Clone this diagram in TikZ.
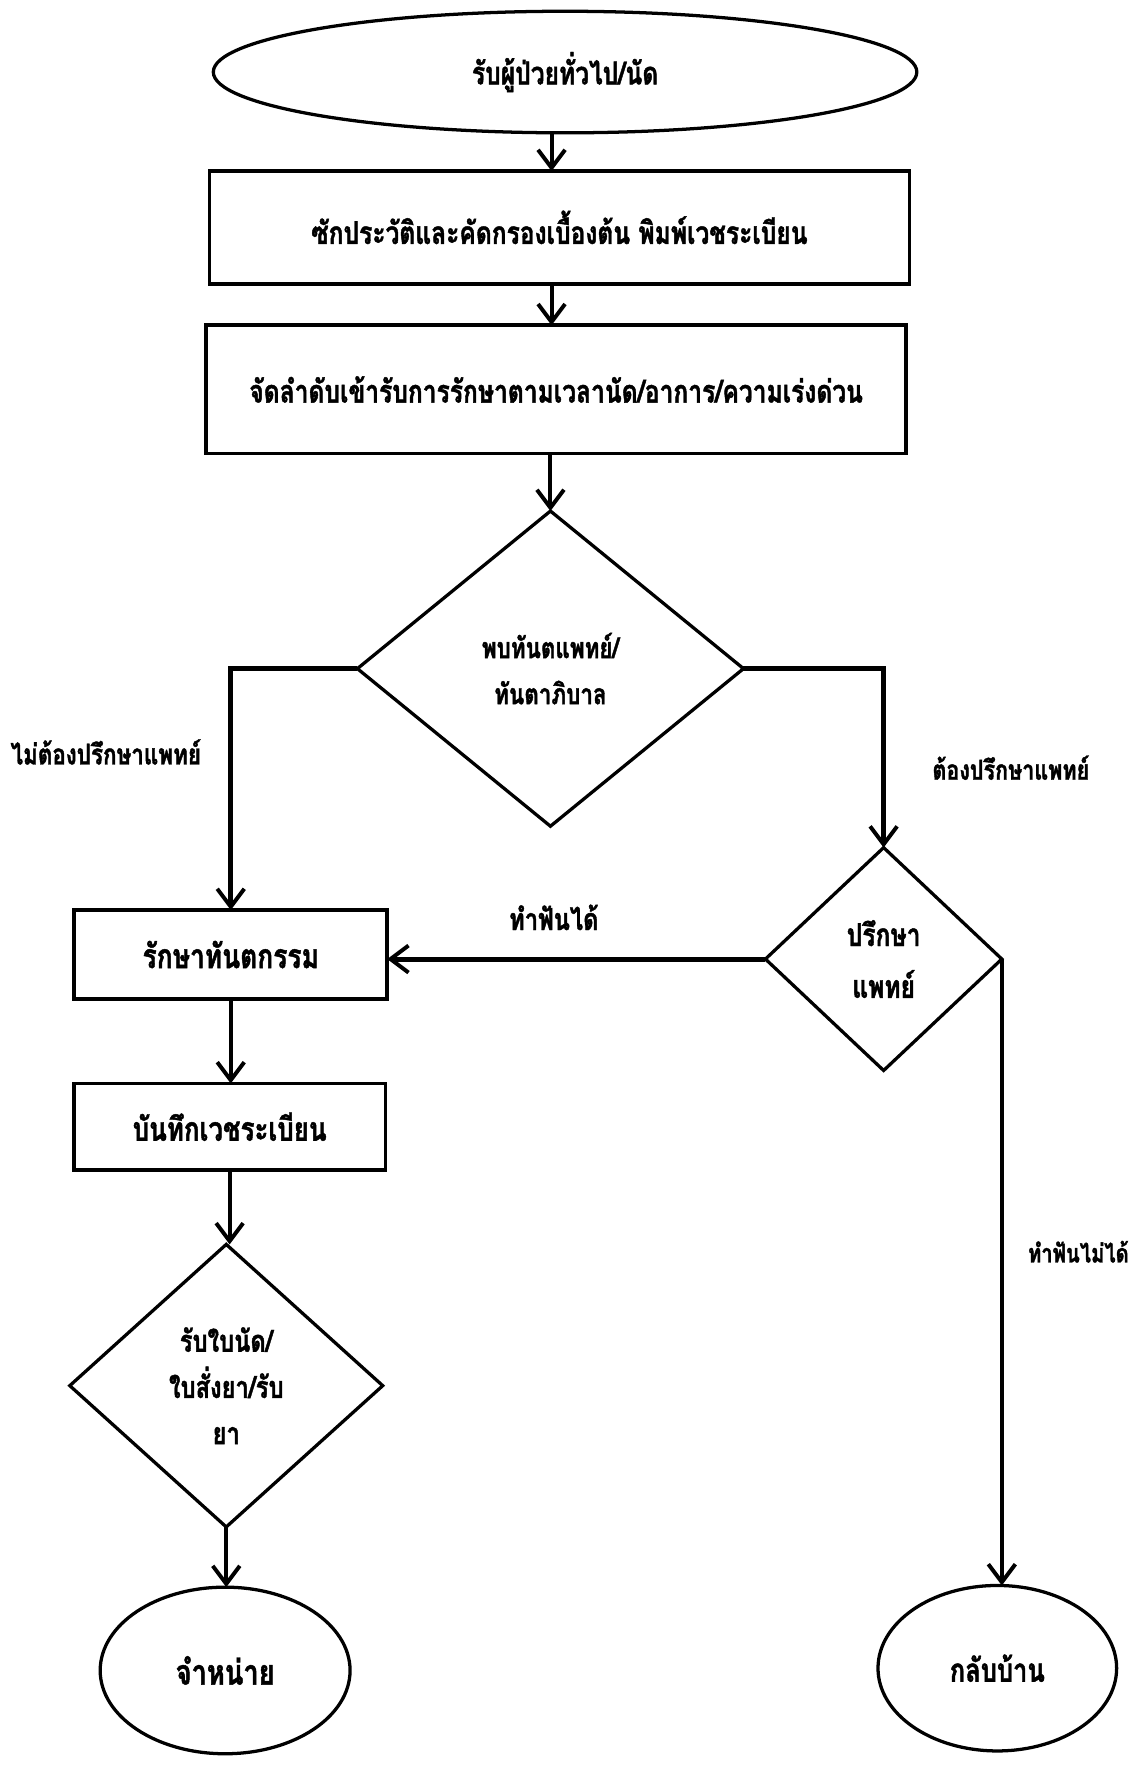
\documentclass[tikz,border=0pt]{standalone}
\usepackage{fontspec}
\newfontfamily\thaifont[Script=Thai,FakeStretch=0.78,FakeBold=1.3]{Loma}
\usetikzlibrary{shapes.geometric,arrows.meta,calc}
\newcommand{\tf}[2]{\thaifont\bfseries\fontsize{#1}{#2}\selectfont}
\begin{document}
\begin{tikzpicture}[x=1pt,y=-1pt,
  every node/.style={font=\tf{28}{34}},
  ln/.style={line width=3.3pt},
  arr/.style={line width=3.6pt,-{Straight Barb[length=16pt,width=24pt,line width=3.5pt]}},
  heavy/.style={line width=4.4pt},
  proc/.style={draw,ln,rectangle,inner sep=0pt,outer sep=0pt},
  dec/.style={draw,line width=2.9pt,diamond,inner sep=0pt,outer sep=0pt,align=center},
  term/.style={draw,line width=2.9pt,ellipse,inner sep=0pt,outer sep=0pt},
]
\useasboundingbox (0,0) rectangle (1010,1568);
\node[term, minimum width=625pt, minimum height=108pt] (start) at (502,64) {รับผู้ป่วยทั่วไป/นัด};
\node[proc, minimum width=622pt, minimum height=100pt] (b1) at (497,202) {ซักประวัติและคัดกรองเบื้องต้น พิมพ์เวชระเบียน};
\node[proc, minimum width=622pt, minimum height=114pt] (b2) at (494,346) {จัดลำดับเข้ารับการรักษาตามเวลานัด/อาการ/ความเร่งด่วน};
\node[dec, font=\tf{25.5}{41}, minimum width=343pt, minimum height=280pt] (d1) at (489,594) {พบทันตแพทย์/\\ทันตาภิบาล};
\node[proc, font=\tf{30}{34}, minimum width=278pt, minimum height=79pt] (b3) at (205,848) {รักษาทันตกรรม};
\node[dec, font=\tf{28}{46}, minimum width=210pt, minimum height=198pt] (d2) at (785,852) {ปรึกษา\\แพทย์};
\node[proc, font=\tf{29.5}{34}, minimum width=277pt, minimum height=77pt] (b4) at (204,1001) {บันทึกเวชระเบียน};
\node[dec, font=\tf{27}{41}, minimum width=278pt, minimum height=251pt] (d3) at (201,1231) {รับใบนัด/\\ใบสั่งยา/รับ\\ยา};
\node[term, font=\tf{31}{34}, minimum width=222pt, minimum height=148pt] (c1) at (200,1484) {จำหน่าย};
\node[term, font=\tf{29}{34}, minimum width=212pt, minimum height=147pt] (c2) at (886,1482) {กลับบ้าน};
\node[font=\tf{25.5}{30}] (l1) at (94,668) {ไม่ต้องปรึกษาแพทย์};
\node[font=\tf{24.5}{30}] (l2) at (898,682) {ต้องปรึกษาแพทย์};
\node[font=\tf{27}{30}] (l3) at (492,815) {ทำฟันได้};
\node[font=\tf{23}{30}] (l4) at (958,1112) {ทำฟันไม่ได้};
\draw[arr] ([xshift=-12pt]start.south) -- ([xshift=-12pt]start.south |- b1.north);
\draw[arr] ([xshift=-7pt]b1.south) -- ([xshift=-7pt]b1.south |- b2.north);
\draw[arr] ([xshift=-5pt]b2.south) -- ([xshift=-5pt]b2.south |- d1.north);
\draw[arr, heavy] (d1.west) -| (b3.north);
\draw[arr, heavy] (d1.east) -| (d2.north);
\draw[arr, heavy] (d2.west) -- (d2.west -| b3.east);
\draw[arr] (d2.east) -- (d2.east |- c2.north);
\draw[arr] (b3.south) -- (b3.south |- b4.north);
\draw[arr] (b4.south) -- (b4.south |- d3.north);
\draw[arr] (d3.south) -- (d3.south |- c1.north);
\end{tikzpicture}
\end{document}
